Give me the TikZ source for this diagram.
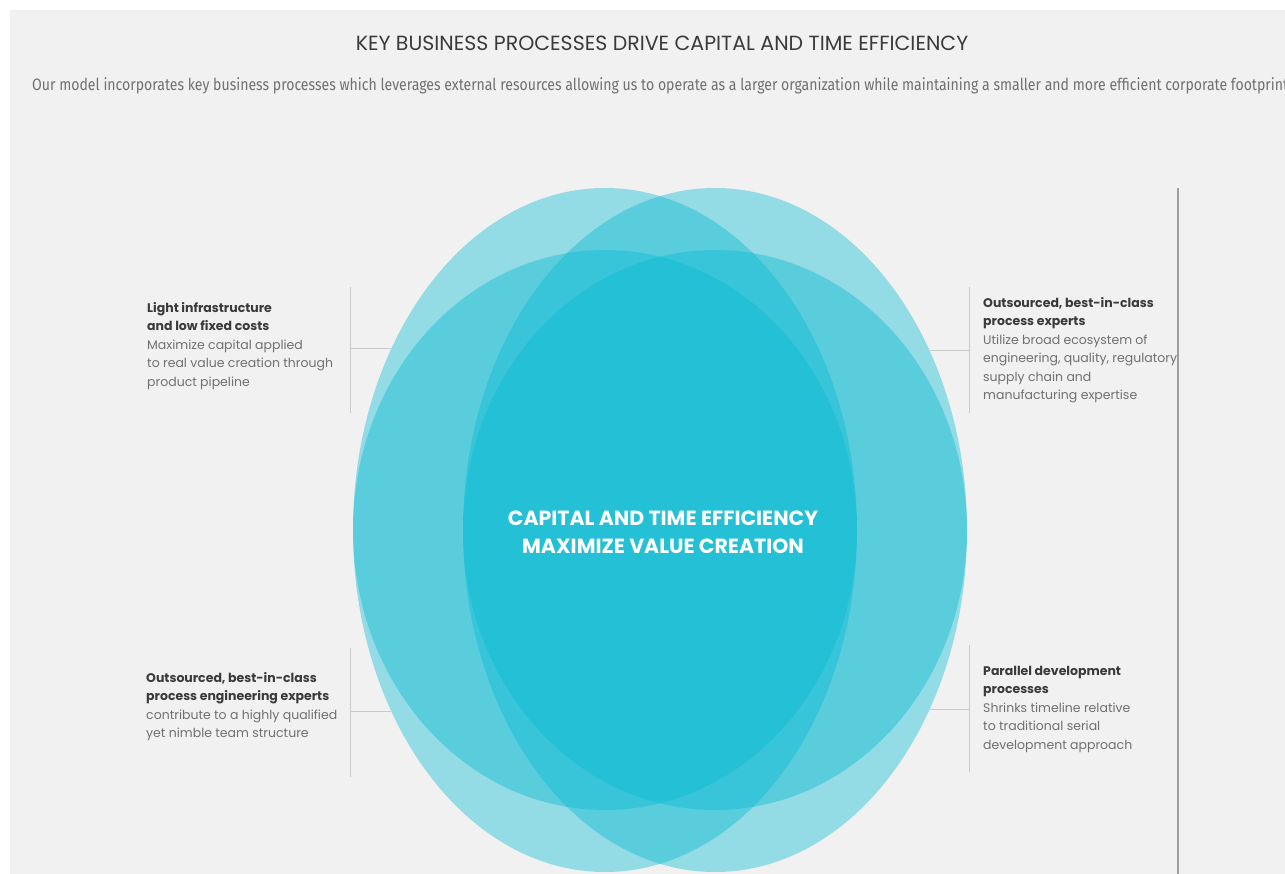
\documentclass[tikz,border=0pt]{standalone}
\usepackage{fontspec}
\setmainfont{Poppins}
\newfontfamily\leadfont[FakeStretch=0.853]{Fira Sans}
\usepackage{xcolor}
\usetikzlibrary{positioning}

\definecolor{pagegray}{HTML}{F1F1F1}
\definecolor{lobecyan}{RGB}{6,186,211}
\definecolor{headgray}{HTML}{3A3A3A}
\definecolor{bodygray}{HTML}{707070}
\definecolor{rulegray}{HTML}{CACACA}

\tikzset{
  lobe/.style={fill=lobecyan, fill opacity=0.4},
  bracket/.style={draw=rulegray, line width=1pt},
  note/.style={align=left, anchor=north west, inner sep=0pt, text=bodygray,
    font=\fontsize{12.5}{18.5}\selectfont},
}
\newcommand{\notehead}[1]{{\bfseries\color{headgray}#1}}

\begin{document}
\begin{tikzpicture}[x=1pt, y=-1pt]
        % Page and background
        \clip (0,0) rectangle (1285,874);
        \fill[pagegray] (10,10) rectangle (1285,874);

        % Heading and lead text
        \node[text=headgray, font=\fontsize{20.5}{24}\selectfont] (title) at (662,43)
            {KEY BUSINESS PROCESSES DRIVE CAPITAL AND TIME EFFICIENCY};
        \node[anchor=base west, inner sep=0pt, text=bodygray, font=\leadfont\fontsize{16.5}{20}\selectfont] (lead) at (32,91)
            {Our model incorporates key business processes which leverages external resources allowing us to operate as a larger organization while maintaining a smaller and more efficient corporate footprint.};

        % Brackets and ticks
        \foreach \x/\top/\bot in {350/287/413, 969/287/413, 350/648/777, 969/645/772}
            \draw[bracket] (\x,\top) -- (\x,\bot);
        \coordinate (tl a) at (350,349);  \coordinate (tl b) at (391,349);
        \coordinate (tr a) at (969,351);  \coordinate (tr b) at (930,351);
        \coordinate (bl a) at (350,711);  \coordinate (bl b) at (391,711);
        \coordinate (br a) at (969,709);  \coordinate (br b) at (930,709);
        \foreach \t in {tl, tr, bl, br}
            \draw[bracket] (\t\space a) -- (\t\space b);

        % Overlapping lobes
        \foreach \cx/\ry in {605/342, 715/342, 605/280, 715/280}
            \fill[lobe] (\cx,530) ellipse [x radius=252, y radius=\ry];

        \node[text=white, align=center, font=\bfseries\fontsize{20.5}{28}\selectfont] (core) at (663,532)
            {CAPITAL AND TIME EFFICIENCY\\MAXIMIZE VALUE CREATION};

        % Side notes
        \node[note] (costs) at (147,302)
            {\notehead{Light infrastructure}\\\notehead{and low fixed costs}\\Maximize capital applied\\to real value creation through\\product pipeline};
        \node[note] (experts) at (983,297)
            {\notehead{Outsourced, best-in-class}\\\notehead{process experts}\\Utilize broad ecosystem of\\engineering, quality, regulatory,\\supply chain and\\manufacturing expertise};
        \node[note] (team) at (146,672)
            {\notehead{Outsourced, best-in-class}\\\notehead{process engineering experts}\\contribute to a highly qualified\\yet nimble team structure};
        \node[note] (parallel) at (983,666)
            {\notehead{Parallel development}\\\notehead{processes}\\Shrinks timeline relative\\to traditional serial\\development approach};

        % Right rule
        \draw[gray!75, line width=1.2pt] (1178,188) -- (1178,874);
    \end{tikzpicture}
\end{document}
